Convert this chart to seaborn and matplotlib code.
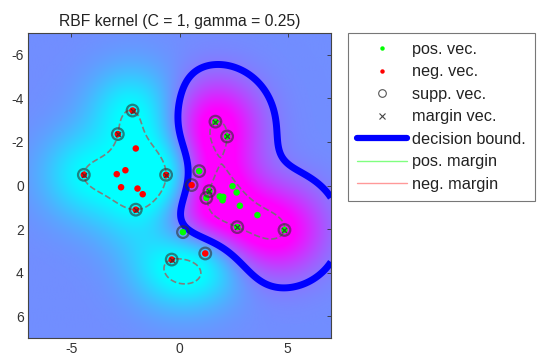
import numpy as np
import matplotlib as mpl
mpl.use("Agg")
import matplotlib.pyplot as plt
import seaborn as sns
import pandas as pd
from matplotlib.lines import Line2D

# training points: x, y, class, role
# role: "margin" = free SV on the margin, "bound" = SV with alpha = C, "none" = not a SV
neg_x = [-2.17, -2.85, -4.42, -0.62, -2.02, -0.36, 0.56, 1.19, -2.02, -2.90, -2.50, -2.70, -1.94, -1.70]
neg_y = [-3.44, -2.36, -0.49, -0.49, 1.11, 3.40, -0.02, 3.12, -1.70, -0.52, -0.70, 0.08, 0.14, 0.40]
neg_role = ["margin"] * 6 + ["bound"] * 2 + ["none"] * 6

pos_x = [1.66, 2.20, 1.38, 2.67, 4.85, 0.91, 1.24, 0.16, 1.86, 2.02, 1.99, 2.45, 2.64, 2.79, 3.60]
pos_y = [-2.93, -2.25, 0.26, 1.91, 2.04, -0.66, 0.57, 2.14, 0.50, 0.52, 0.68, 0.03, 0.32, 0.93, 1.36]
pos_role = ["margin"] * 5 + ["bound"] * 3 + ["none"] * 7

C = 1.0
gamma = 0.25

df = pd.DataFrame({
    "x": neg_x + pos_x,
    "y": neg_y + pos_y,
    "label": [-1] * len(neg_x) + [1] * len(pos_x),
    "role": neg_role + pos_role,
})

P = df[["x", "y"]].to_numpy()
lab = df["label"].to_numpy().astype(float)

def kern(A, B):
    d = ((A[:, None, :] - B[None, :, :]) ** 2).sum(-1)
    return np.exp(-gamma * d)

# KKT: free SVs sit on y f = 1, bounded ones have alpha = C
K = kern(P, P)
free = np.where(df["role"] == "margin")[0]
bnd = np.where(df["role"] == "bound")[0]
n = len(free)
A = np.zeros((n + 1, n + 1))
rhs = np.zeros(n + 1)
for r, i in enumerate(free):
    A[r, :n] = lab[free] * K[i, free]
    A[r, n] = 1.0
    rhs[r] = lab[i] - C * (lab[bnd] * K[i, bnd]).sum()
A[n, :n] = lab[free]
rhs[n] = -C * lab[bnd].sum()
sol = np.linalg.solve(A, rhs)
alpha = np.zeros(len(P))
alpha[free] = sol[:n]
alpha[bnd] = C
b = sol[n]

gx = np.linspace(-7, 7, 281)
gy = np.linspace(-7, 7, 281)
GX, GY = np.meshgrid(gx, gy)
G = np.column_stack([GX.ravel(), GY.ravel()])
F = (kern(G, P) @ (alpha * lab) + b).reshape(GX.shape)

# colour limits pulled in a bit so the cores saturate
sq = 0.72
vmin = b - sq * (b - F.min())
vmax = b + sq * (F.max() - b)

sns.set_style("white")
plt.rcParams["font.family"] = ["Liberation Sans", "DejaVu Sans"]
plt.rcParams["axes.unicode_minus"] = False

fig = plt.figure(figsize=(5.38, 3.61), dpi=100)
ax = fig.add_axes([28 / 538, 1 - 338 / 361, 303 / 538, 305 / 361])

ax.imshow(F, extent=[-7, 7, 7, -7], origin="upper", cmap="cool",
          vmin=vmin, vmax=vmax, interpolation="bilinear", aspect="auto")
ax.contour(GX, GY, F, levels=[0], colors=["#0000ff"], linewidths=5)
ax.contour(GX, GY, F, levels=[1], colors=["#00cc00"], linewidths=1.2,
           linestyles="--", alpha=0.5)
ax.contour(GX, GY, F, levels=[-1], colors=["#ff0000"], linewidths=1.2,
           linestyles="--", alpha=0.5)

sns.scatterplot(data=df, x="x", y="y", hue="label", palette={-1: "#ff0000", 1: "#00ff00"},
                s=22, edgecolor="none", legend=False, ax=ax, zorder=3)
sv = df[df["role"] != "none"]
ax.scatter(sv["x"], sv["y"], s=70, facecolors="none", edgecolors="#303030",
           linewidths=1.6, alpha=0.6, zorder=4)
mv = df[df["role"] == "margin"]
ax.scatter(mv["x"], mv["y"], s=14, marker="x", color="#303030", linewidths=0.9,
           alpha=0.8, zorder=5)

ax.set_xlim(-7, 7)
ax.set_ylim(7, -7)
ax.set_xticks([-5, 0, 5])
ax.set_yticks([-6, -4, -2, 0, 2, 4, 6])
ax.set_xlabel("")
ax.set_ylabel("")
ax.tick_params(direction="in", top=True, right=True, length=3, width=0.6,
               labelsize=10, colors="#333333", pad=3)
for s in ax.spines.values():
    s.set_color("#444444")
    s.set_linewidth(0.8)
ax.set_title("RBF kernel (C = 1, gamma = 0.25)", fontsize=11.3, color="#222222", pad=5)

handles = [
    Line2D([], [], ls="none", marker="o", ms=3.2, color="#00ff00", mec="none"),
    Line2D([], [], ls="none", marker="o", ms=3.2, color="#ff0000", mec="none"),
    Line2D([], [], ls="none", marker="o", ms=5.5, mfc="none", mec="#555555", mew=0.8),
    Line2D([], [], ls="none", marker="x", ms=4.5, color="#444444", mew=0.8),
    Line2D([], [], color="#0000ff", lw=4.5),
    Line2D([], [], color="#80ff80", lw=1.0),
    Line2D([], [], color="#ff9999", lw=1.0),
]
labels = ["pos. vec.", "neg. vec.", "supp. vec.", "margin vec.",
          "decision bound.", "pos. margin", "neg. margin"]
leg = ax.legend(handles, labels, loc="upper left", bbox_to_anchor=(348 / 538, 1 - 33 / 361),
                bbox_transform=fig.transFigure, fontsize=11.7, frameon=True, fancybox=False,
                borderaxespad=0, handlelength=3.1, labelspacing=0.46, handletextpad=0.3,
                borderpad=0.55)
leg.get_frame().set_edgecolor("#555555")
leg.get_frame().set_linewidth(0.8)
for t in leg.get_texts():
    t.set_color("#222222")

fig.savefig("out.png", dpi=100)
